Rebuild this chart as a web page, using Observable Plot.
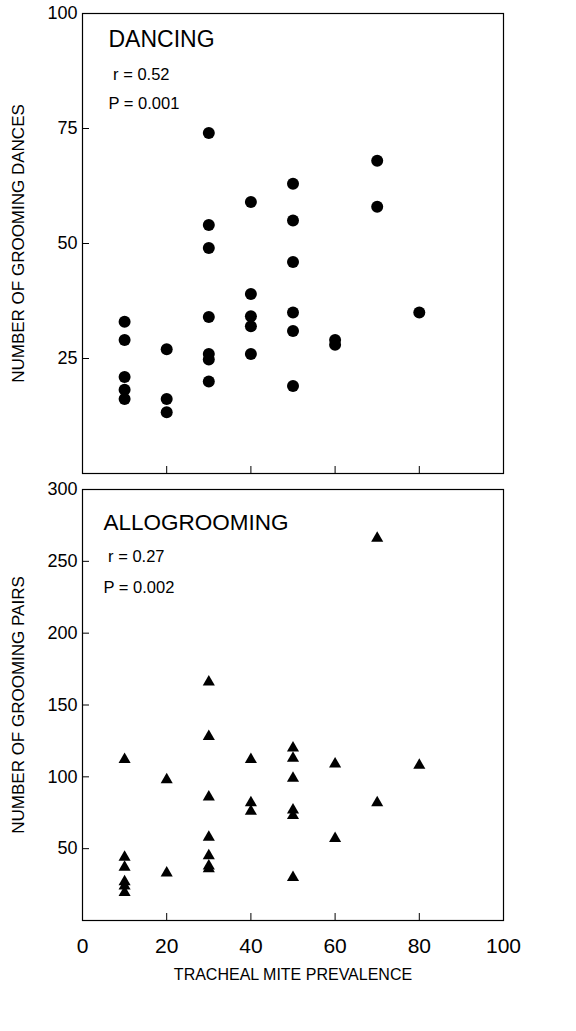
<!DOCTYPE html>
<html>
<head>
<meta charset="utf-8">
<script src="https://cdn.jsdelivr.net/npm/d3@7"></script>
<script src="https://cdn.jsdelivr.net/npm/@observablehq/plot@0.6"></script>
<style>
  html, body { margin: 0; padding: 0; background: white; }
  #chart svg { display: block; }
</style>
</head>
<body>
<div id="chart"></div>
<script>
// ---- data ----
const xTicks = [0, 20, 40, 60, 80, 100];
const danceTicks = [25, 50, 75, 100];
const pairTicks = [50, 100, 150, 200, 250, 300];

const danceX = [10,10,10,10,10, 20,20,20, 30,30,30,30,30,30,30, 40,40,40,40,40, 50,50,50,50,50,50, 60,60, 70,70, 80];
const danceY = [33,29,21,18.2,16.2, 27,16.2,13.3, 74,54,49,34,26,24.8,20, 59,39,34.2,32,26, 63,55,46,35,31,19, 29,28, 68,58, 35];

const pairX = [10,10,10,10,10,10, 20,20, 30,30,30,30,30,30,30, 40,40,40, 50,50,50,50,50,50, 60,60, 70,70, 80];
const pairY = [112,44,37,27,24,19.5, 98,33, 166,128,86,58,45,38,36, 112,82,76, 120,113,99,77,73,30, 109,57, 266,82, 108];

const titleTop = "DANCING";
const statsTop = [" r = 0.52", "P = 0.001"];
const titleBottom = "ALLOGROOMING";
const statsBottom = [" r = 0.27", "P = 0.002"];
const yLabelTop = "NUMBER OF GROOMING DANCES";
const yLabelBottom = "NUMBER OF GROOMING PAIRS";
const xLabel = "TRACHEAL MITE PREVALENCE";

const dances = danceX.map((x, i) => ({x, y: danceY[i]}));
const pairs = pairX.map((x, i) => ({x, y: pairY[i]}));

const chartStyle = {fontFamily: "'Liberation Sans', Arial, Helvetica, sans-serif", color: "black", background: "white", overflow: "visible"};

const topChart = Plot.plot({
  width: 576, height: 480,
  marginLeft: 82, marginRight: 73, marginTop: 13, marginBottom: 7,
  style: chartStyle,
  x: {domain: [0, 100]},
  y: {domain: [0, 100]},
  marks: [
    Plot.frame({stroke: "black", strokeWidth: 1.2}),
    Plot.axisY({ticks: danceTicks, tickSize: -7, tickPadding: 12, fontSize: 18, label: null}),
    Plot.axisX({ticks: xTicks, tickSize: -7, tickFormat: () => "", label: null}),
    Plot.dot(dances, {x: "x", y: "y", r: 6, fill: "black", stroke: "none"}),
    Plot.text([titleTop], {frameAnchor: "top-left", dx: 26, dy: 26, textAnchor: "start", lineAnchor: "middle", fontSize: 23}),
    Plot.text([statsTop[0]], {frameAnchor: "top-left", dx: 26, dy: 61, textAnchor: "start", lineAnchor: "middle", fontSize: 16.5}),
    Plot.text([statsTop[1]], {frameAnchor: "top-left", dx: 26, dy: 90, textAnchor: "start", lineAnchor: "middle", fontSize: 16.5}),
    Plot.text([yLabelTop], {frameAnchor: "left", dx: -63.5, rotate: -90, textAnchor: "middle", lineAnchor: "middle", fontSize: 17})
  ]
});

const bottomChart = Plot.plot({
  width: 576, height: 551,
  marginLeft: 82, marginRight: 73, marginTop: 9, marginBottom: 111,
  style: chartStyle,
  x: {domain: [0, 100]},
  y: {domain: [0, 300]},
  marks: [
    Plot.frame({stroke: "black", strokeWidth: 1.2}),
    Plot.axisY({ticks: pairTicks, tickSize: -7, tickPadding: 12, fontSize: 18, label: null}),
    Plot.axisX({ticks: xTicks, tickSize: -7, tickPadding: 24.5, fontSize: 21, label: null}),
    Plot.dot(pairs, {x: "x", y: "y", r: 4.5, symbol: "triangle", fill: "black", stroke: "none"}),
    Plot.text([titleBottom], {frameAnchor: "top-left", dx: 21, dy: 33, textAnchor: "start", lineAnchor: "middle", fontSize: 22.5}),
    Plot.text([statsBottom[0]], {frameAnchor: "top-left", dx: 21, dy: 67, textAnchor: "start", lineAnchor: "middle", fontSize: 16.5}),
    Plot.text([statsBottom[1]], {frameAnchor: "top-left", dx: 21, dy: 98, textAnchor: "start", lineAnchor: "middle", fontSize: 16.5}),
    Plot.text([yLabelBottom], {frameAnchor: "left", dx: -63.5, rotate: -90, textAnchor: "middle", lineAnchor: "middle", fontSize: 17}),
    Plot.text([xLabel], {frameAnchor: "bottom", dy: 54, textAnchor: "middle", lineAnchor: "middle", fontSize: 16})
  ]
});

document.getElementById("chart").append(topChart, bottomChart);
</script>
</body>
</html>
